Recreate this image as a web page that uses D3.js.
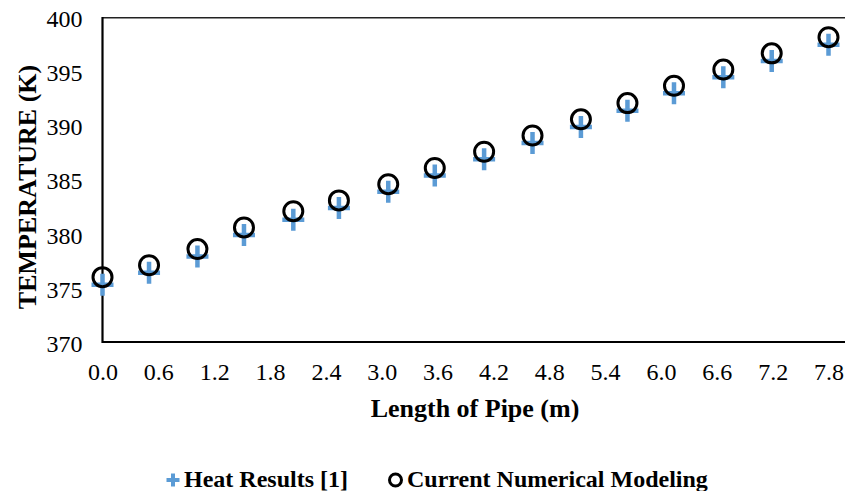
<!DOCTYPE html>
<html>
<head>
<meta charset="utf-8">
<script src="https://cdn.jsdelivr.net/npm/d3@7"></script>
<style>
  html, body { margin: 0; padding: 0; background: #fff; }
  svg { display: block; }
</style>
</head>
<body>
<svg id="chart" width="845" height="491"></svg>
<script>
// Position along the pipe (m)
const pipeLength = [0, 0.5, 1.02, 1.52, 2.05, 2.54, 3.07, 3.57, 4.1, 4.62, 5.14, 5.64, 6.14, 6.67, 7.19, 7.8];
// Current numerical modeling temperatures (K)
const numericalTemp = [376.0, 377.1, 378.6, 380.6, 382.1, 383.1, 384.6, 386.1, 387.6, 389.1, 390.6, 392.1, 393.7, 395.2, 396.7, 398.2];
// Heat results [1] temperatures (K)
const heatTemp = [375.3, 376.4, 377.9, 379.9, 381.3, 382.4, 383.9, 385.4, 386.9, 388.4, 389.9, 391.4, 393.0, 394.5, 396.0, 397.5];
// Axis ticks
const xTicks = [0.0, 0.6, 1.2, 1.8, 2.4, 3.0, 3.6, 4.2, 4.8, 5.4, 6.0, 6.6, 7.2, 7.8];
const yTicks = [370, 375, 380, 385, 390, 395, 400];

const FONT = "'Liberation Serif', 'Times New Roman', Times, serif";
const svg = d3.select("#chart");
const plotLeft = 102.5, plotRight = 828.5, plotTop = 17.7, plotBottom = 342;

const x = d3.scaleLinear().domain([0, 7.8]).range([plotLeft, plotRight]);
const y = d3.scaleLinear().domain([370, 400]).range([plotBottom, plotTop]);

// Plot frame: top and bottom rules, left axis
svg.append("line").attr("x1", plotLeft).attr("x2", 845).attr("y1", y(400)).attr("y2", y(400))
  .attr("stroke", "#222").attr("stroke-width", 1.6);
svg.append("line").attr("x1", plotLeft).attr("x2", 845).attr("y1", y(370)).attr("y2", y(370))
  .attr("stroke", "#000").attr("stroke-width", 2.2);
svg.append("line").attr("x1", plotLeft).attr("x2", plotLeft).attr("y1", y(400) - 0.8).attr("y2", y(370) + 1.1)
  .attr("stroke", "#000").attr("stroke-width", 2.2);

// Y axis tick labels
const yAxis = d3.axisLeft(y).tickValues(yTicks).tickSize(0).tickPadding(20).tickFormat(d3.format("d"));
const gy = svg.append("g").attr("transform", `translate(${plotLeft},0)`).call(yAxis);
gy.select(".domain").remove();
gy.attr("font-family", FONT).attr("font-size", 24);
gy.selectAll("text").attr("fill", "#000").attr("dy", "0.38em");

// X axis tick labels
const xAxis = d3.axisBottom(x).tickValues(xTicks).tickSize(0).tickPadding(21).tickFormat(d3.format(".1f"));
const gx = svg.append("g").attr("transform", `translate(0,${plotBottom})`).call(xAxis);
gx.select(".domain").remove();
gx.attr("font-family", FONT).attr("font-size", 24);
gx.selectAll("text").attr("fill", "#000");

// Axis titles
svg.append("text")
  .attr("transform", "translate(36,187) rotate(-90)")
  .attr("text-anchor", "middle")
  .attr("font-family", FONT).attr("font-size", 26).attr("font-weight", "bold")
  .text("TEMPERATURE (K)");
svg.append("text")
  .attr("x", 475).attr("y", 417)
  .attr("text-anchor", "middle")
  .attr("font-family", FONT).attr("font-size", 26).attr("font-weight", "bold")
  .text("Length of Pipe (m)");

// Plus marker path centred on the origin
function plusPath(size) {
  const h = size / 2;
  return `M${-h},0H${h}M0,${-h}V${h}`;
}

// Heat results [1]: blue plus markers
svg.append("g").selectAll("path")
  .data(pipeLength.map((d, i) => ({ x: d, t: heatTemp[i] })))
  .join("path")
  .attr("transform", d => `translate(${x(d.x)},${y(d.t)})`)
  .attr("d", plusPath(22))
  .attr("stroke", "#5B9BD5").attr("stroke-width", 4.5).attr("fill", "none");

// Current numerical modeling: open black circles
svg.append("g").selectAll("circle")
  .data(pipeLength.map((d, i) => ({ x: d, t: numericalTemp[i] })))
  .join("circle")
  .attr("cx", d => x(d.x)).attr("cy", d => y(d.t))
  .attr("r", 9.5)
  .attr("fill", "none").attr("stroke", "#000").attr("stroke-width", 3);

// Legend
const legend = svg.append("g").attr("transform", "translate(0,480)");
legend.append("path").attr("transform", "translate(173,0)").attr("d", plusPath(13))
  .attr("stroke", "#5B9BD5").attr("stroke-width", 4);
legend.append("text").attr("x", 184).attr("y", 6.5).attr("font-family", FONT).attr("font-size", 24).attr("font-weight", "bold")
  .text("Heat Results [1]");
legend.append("circle").attr("cx", 395.5).attr("cy", 0).attr("r", 6)
  .attr("fill", "none").attr("stroke", "#000").attr("stroke-width", 3);
legend.append("text").attr("x", 407).attr("y", 6.5).attr("font-family", FONT).attr("font-size", 24).attr("font-weight", "bold")
  .text("Current Numerical Modeling");
</script>
</body>
</html>
